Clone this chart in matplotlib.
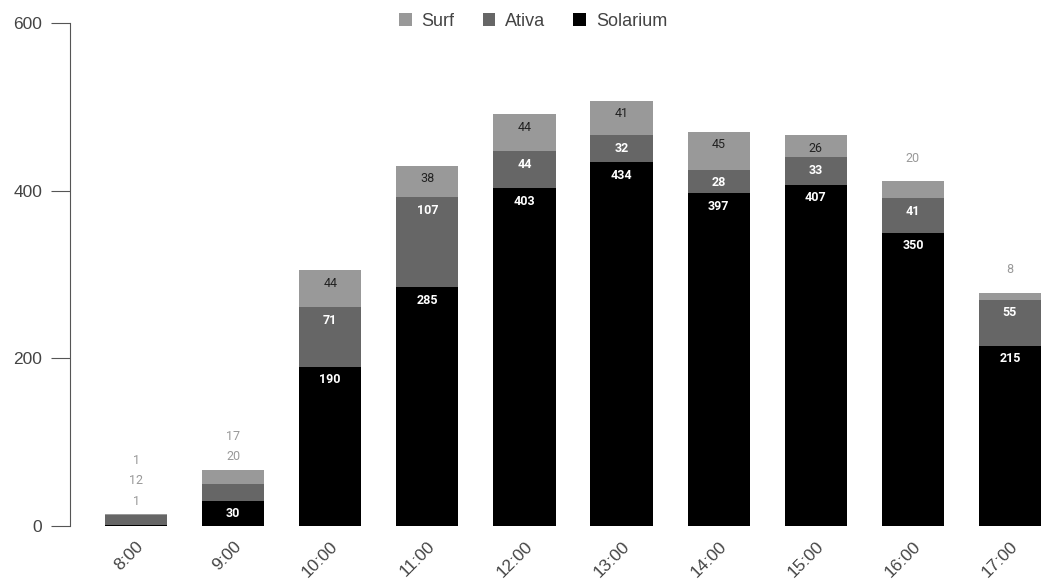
import numpy as np
import matplotlib.pyplot as plt
from matplotlib import transforms

hours = ['8:00', '9:00', '10:00', '11:00', '12:00', '13:00', '14:00', '15:00', '16:00', '17:00']
solarium = [1, 30, 190, 285, 403, 434, 397, 407, 350, 215]
ativa = [12, 20, 71, 107, 44, 32, 28, 33, 41, 55]
surf = [1, 17, 44, 38, 44, 41, 45, 26, 20, 8]

series = [('Solarium', solarium, '#000000', 'white', 'bold'),
          ('Ativa', ativa, '#666666', 'white', 'bold'),
          ('Surf', surf, '#999999', '#222222', 'normal')]

plt.rcParams['font.family'] = ['Roboto', 'DejaVu Sans']
axis_font = ['Liberation Sans', 'DejaVu Sans']

fig = plt.figure(figsize=(10.43, 5.81), dpi=100)
ax = fig.add_axes([0.0671, 0.0947, 0.9329, 0.8657])

x = np.arange(len(hours))
bottom = np.zeros(len(hours))
outside = [[] for _ in hours]
handles = {}
for name, vals, color, tcolor, weight in series:
    vals = np.array(vals, dtype=float)
    b = ax.bar(x, vals, 0.64, bottom=bottom, color=color, label=name, zorder=2)
    handles[name] = b
    for i, v in enumerate(vals):
        top = bottom[i] + v
        if v >= 25:
            off = transforms.offset_copy(ax.transData, fig=fig, x=0, y=-13, units='dots')
            ax.text(x[i], top, str(int(v)), transform=off, ha='center', va='center',
                    color=tcolor, fontsize=9, fontweight=weight, zorder=3)
        else:
            outside[i].append(int(v))
    bottom = bottom + vals

# small segments get their label stacked above the bar
for i, labs in enumerate(outside):
    if not labs:
        continue
    start = 23 if len(labs) == 1 else 13
    for k, v in enumerate(labs):
        off = transforms.offset_copy(ax.transData, fig=fig, x=0, y=start + 20.5 * k, units='dots')
        ax.text(x[i], bottom[i], str(v), transform=off, ha='center', va='center',
                color='#999999', fontsize=9, zorder=3)

ax.set_xlim(-0.68, 9.34)
ax.set_ylim(0, 600)
ax.set_yticks([0, 200, 400, 600])
ax.set_xticks(x)
ax.set_xticklabels(hours, rotation=45, ha='right', rotation_mode='anchor')
for t in ax.get_xticklabels() + ax.get_yticklabels():
    t.set_family(axis_font)

for s in ['top', 'right', 'bottom']:
    ax.spines[s].set_visible(False)
ax.spines['left'].set_color('#555555')
ax.tick_params(axis='y', length=14, color='#555555', labelcolor='#444444', labelsize=12.5, pad=6)
ax.tick_params(axis='x', length=0, labelcolor='#444444', labelsize=12.5, pad=9)

leg = ax.legend([handles['Surf'], handles['Ativa'], handles['Solarium']], ['Surf', 'Ativa', 'Solarium'],
                loc='upper center', bbox_to_anchor=(0.476, 1.052), ncol=3, frameon=False,
                prop={'family': axis_font, 'size': 13}, handlelength=0.7, handleheight=0.7,
                handletextpad=0.55, columnspacing=1.55)
for t in leg.get_texts():
    t.set_color('#444444')

fig.savefig('out.png', dpi=100)
